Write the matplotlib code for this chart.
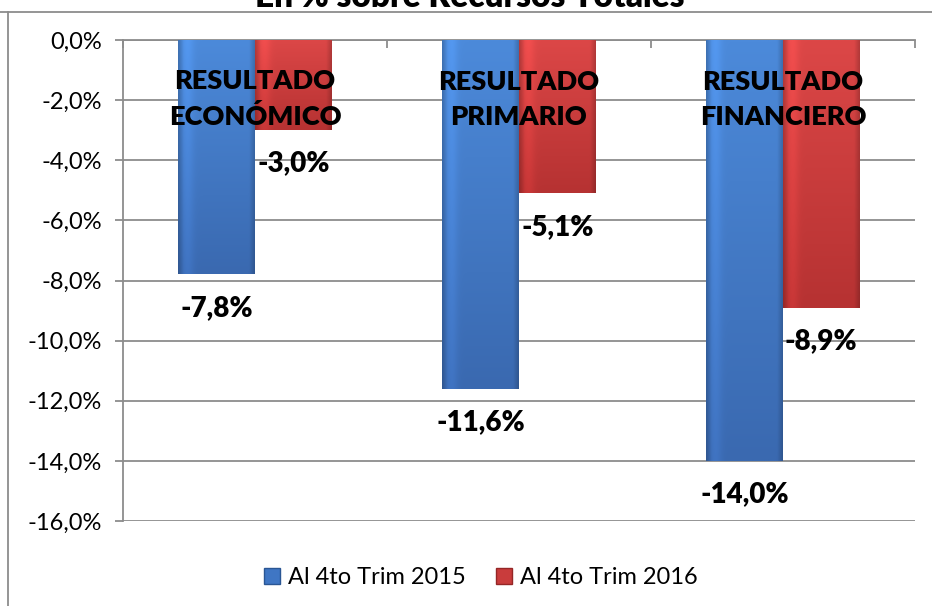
import numpy as np
import matplotlib
matplotlib.use("Agg")
import matplotlib.pyplot as plt
from matplotlib.lines import Line2D
from matplotlib.patches import Patch
from matplotlib.colors import to_rgb

plt.rcParams['font.family'] = ['Lato', 'DejaVu Sans']

# data
categories = ["RESULTADO\nECONÓMICO", "RESULTADO\nPRIMARIO", "RESULTADO\nFINANCIERO"]
series_names = ["Al 4to Trim 2015", "Al 4to Trim 2016"]
values_2015 = [-7.8, -11.6, -14.0]
values_2016 = [-3.0, -5.1, -8.9]
yticks = [0, -2, -4, -6, -8, -10, -12, -14, -16]

blue_top, blue_bottom = "#4C8ADA", "#3A69B0"
red_top, red_bottom = "#DC4747", "#B63232"
blue_main = "#3F76C4"
red_main = "#C93C3C"

fig = plt.figure(figsize=(9.32, 6.06), dpi=100)
ax = fig.add_axes([123/932, 1 - 521/606, 792/932, 481/606])

x = np.arange(len(categories))
w = 0.29


def bevel_image(top, bottom, n=120):
    t = np.linspace(0, 1, n)[:, None, None]
    base = np.array(to_rgb(top)) * (1 - t) + np.array(to_rgb(bottom)) * t
    u = np.linspace(0, 1, 60)[None, :, None]
    # darker rim on both sides, a soft highlight on the left
    rim = 1 - 0.18 * np.clip(1 - np.minimum(u, 1 - u) / 0.07, 0, 1)
    hl = 1 + 0.10 * np.exp(-((u - 0.12) / 0.08) ** 2)
    img = np.clip(base * rim * hl, 0, 1)
    return img


def gradient_bars(xs, vals, top, bottom, color):
    bars = ax.bar(xs, vals, w, color=color, zorder=3)
    for b in bars:
        x0, y0 = b.get_x(), b.get_y()
        im = ax.imshow(bevel_image(top, bottom), aspect='auto', zorder=3.5,
                       extent=[x0, x0 + b.get_width(), y0 + b.get_height(), y0],
                       interpolation='bilinear')
        im.set_clip_path(b)
    return bars


gradient_bars(x - w / 2, values_2015, blue_top, blue_bottom, blue_main)
gradient_bars(x + w / 2, values_2016, red_top, red_bottom, red_main)

# data labels under bar ends
for xs, vals in [(x - w / 2, values_2015), (x + w / 2, values_2016)]:
    for xi, v in zip(xs, vals):
        ax.annotate(f"{v:.1f}%".replace(".", ","), (xi, v), xytext=(0, -24),
                    textcoords='offset points', ha='center', va='center',
                    fontsize=20, fontweight='heavy', zorder=6)

# category labels
for xi, c in zip(x, categories):
    ax.text(xi, -1.97, c, ha='center', va='center', fontsize=19.5,
            fontweight='heavy', linespacing=1.55, zorder=6)

ax.set_xlim(-0.5, 2.5)
ax.set_ylim(-16, 0)
ax.set_yticks(yticks)
ax.set_yticklabels([f"{t:.1f}%".replace(".", ",") for t in yticks], fontsize=17)
ax.yaxis.grid(True, color="#8C8C8C", lw=1.3, zorder=0)
ax.set_axisbelow(True)
ax.tick_params(axis='y', length=6, color="#8C8C8C", width=1.3, pad=9)

ax.xaxis.tick_top()
ax.set_xticks([-0.5, 0.5, 1.5, 2.5])
ax.set_xticklabels([])
ax.tick_params(axis='x', direction='in', length=6, color="#8C8C8C", width=1.3)

for s in ['right', 'bottom']:
    ax.spines[s].set_visible(False)
for s in ['left', 'top']:
    ax.spines[s].set_color("#8C8C8C")
    ax.spines[s].set_linewidth(1.3)

# legend
handles = [Patch(facecolor=blue_main, edgecolor="#2A5694"),
           Patch(facecolor=red_main, edgecolor="#952626")]
fig.legend(handles, series_names, loc='center', bbox_to_anchor=(0.516, 1 - 578/606),
           ncol=2, frameon=False, fontsize=17, handlelength=0.65, handleheight=0.65,
           handletextpad=0.35, columnspacing=1.3)

# title (clipped at top, as in the source)
fig.text(470/932, 1 - 7/606, "En % sobre Recursos Totales", ha='center',
         va='baseline', fontsize=24, fontweight='heavy')

# outer chart border
fig.add_artist(Line2D([0, 1], [1 - 12/606, 1 - 12/606], color="#8C8C8C", lw=1.3))
fig.add_artist(Line2D([8/932, 8/932], [0, 1 - 12/606], color="#8C8C8C", lw=1.3))

fig.savefig("out.png", dpi=100)
